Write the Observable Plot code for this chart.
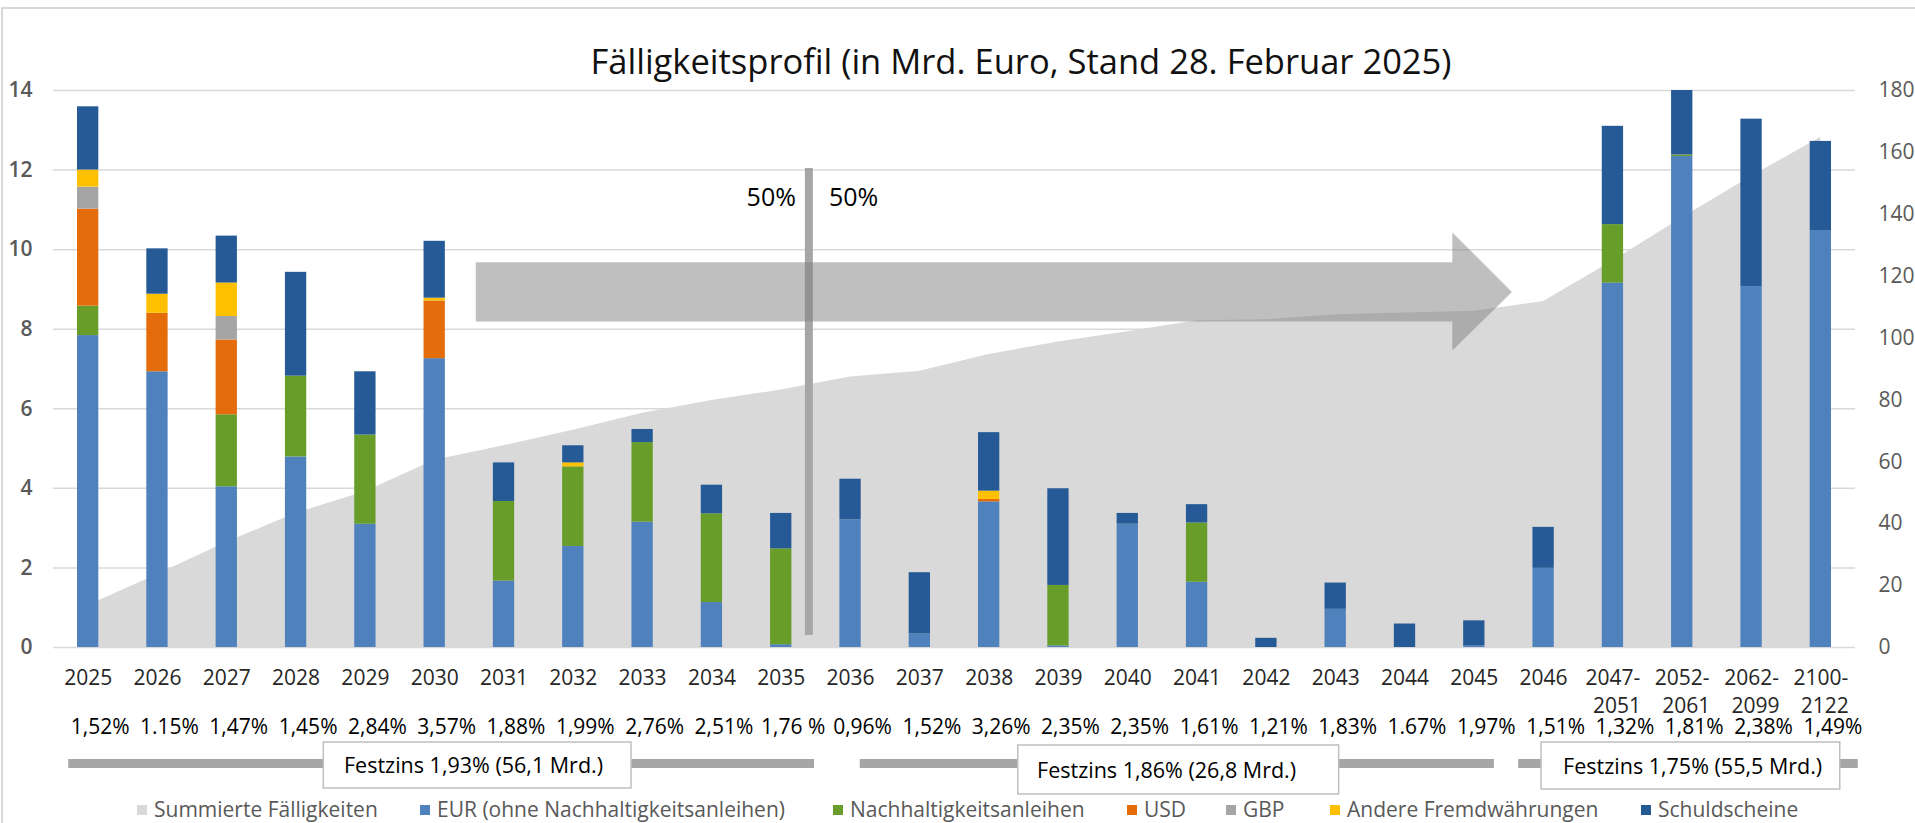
<!DOCTYPE html>
<html>
<head>
<meta charset="utf-8">
<script src="https://cdn.jsdelivr.net/npm/d3@7"></script>
<script src="https://cdn.jsdelivr.net/npm/@observablehq/plot@0.6"></script>
<style>
html, body { margin: 0; padding: 0; background: #fff; }
body { width: 1915px; height: 823px; position: relative; overflow: hidden; font-family: "Open Sans", sans-serif; }
#border { position: absolute; left: 1px; top: 7px; width: 1940px; height: 840px; border-left: 2px solid #d9d9d9; border-top: 2px solid #d9d9d9; }
#title { position: absolute; left: 0; width: 2042px; top: 40px; line-height: 42px; font-size: 34.5px; text-align: center; color: #111; white-space: nowrap; }
#chart { position: absolute; left: 0; top: 80px; }
#legend .item { position: absolute; top: 797px; height: 24px; line-height: 24px; font-size: 21px; color: #595959; white-space: nowrap; }
#legend .sw { position: absolute; left: 0; top: 8px; width: 10px; height: 10px; }
#legend .lbl { position: absolute; left: 17px; top: 0; }
</style>
</head>
<body>
<div id="border"></div>
<div id="title">Fälligkeitsprofil (in Mrd. Euro, Stand 28. Februar 2025)</div>
<div id="chart"></div>
<div id="legend"></div>
<script>
// ---------- data ----------
const categories = ["2025","2026","2027","2028","2029","2030","2031","2032","2033","2034","2035","2036","2037","2038","2039","2040","2041","2042","2043","2044","2045","2046","2047-\n2051","2052-\n2061","2062-\n2099","2100-\n2122"];
const eur        = [7.84,6.93,4.04,4.79,3.10,7.26,1.67,2.54,3.15,1.13,0.07,3.21,0.34,3.66,0.04,3.10,1.64,0,0.96,0,0.04,1.99,9.16,12.34,9.07,10.48];
const nachhaltig = [0.74,0,1.81,2.03,2.24,0,2.00,2.00,2.00,2.23,2.41,0,0,0,1.52,0,1.49,0,0,0,0,0,1.47,0.04,0,0];
const usd        = [2.44,1.47,1.88,0,0,1.45,0,0,0,0,0,0,0,0.06,0,0,0,0,0,0,0,0,0,0,0,0];
const gbp        = [0.55,0,0.59,0,0,0,0,0,0,0,0,0,0,0,0,0,0,0,0,0,0,0,0,0,0,0];
const andere     = [0.43,0.48,0.84,0,0,0.07,0,0.10,0,0,0,0,0,0.21,0,0,0,0,0,0,0,0,0,0,0,0];
const schuld     = [1.59,1.14,1.18,2.61,1.59,1.43,0.97,0.43,0.33,0.72,0.89,1.02,1.54,1.47,2.43,0.27,0.46,0.23,0.66,0.59,0.63,1.03,2.47,1.62,4.21,2.24];
const summiert   = [13.6,23.6,34.0,43.4,50.3,60.5,65.2,70.2,75.7,79.8,83.2,87.4,89.3,94.7,98.7,102.0,105.6,105.9,107.5,108.1,108.7,111.8,124.9,138.9,152.2,164.9];
const zinssaetze = ["1,52%","1.15%","1,47%","1,45%","2,84%","3,57%","1,88%","1,99%","2,76%","2,51%","1,76 %","0,96%","1,52%","3,26%","2,35%","2,35%","1,61%","1,21%","1,83%","1.67%","1,97%","1,51%","1,32%","1,81%","2,38%","1,49%"];
const festzinsLabels = ["Festzins 1,93% (56,1 Mrd.)","Festzins 1,86% (26,8 Mrd.)","Festzins 1,75% (55,5 Mrd.)"];
const splitLabels = ["50%","50%"];
const leftTicks  = [0,2,4,6,8,10,12,14];
const rightTicks = [0,20,40,60,80,100,120,140,160,180];
const seriesNames = ["Summierte Fälligkeiten","EUR (ohne Nachhaltigkeitsanleihen)","Nachhaltigkeitsanleihen","USD","GBP","Andere Fremdwährungen","Schuldscheine"];
const seriesColors = ["#d9d9d9","#4f81bd","#689d2a","#e46c0a","#a5a5a5","#ffc000","#265a96"];

// ---------- tables ----------
const stackSeries = [eur, nachhaltig, usd, gbp, andere, schuld];
const barRows = [];
categories.forEach((c, i) => {
  let base = 0;
  stackSeries.forEach((vals, s) => {
    const v = vals[i];
    if (v > 0) barRows.push({i, cat: c, series: seriesNames[s + 1], y1: base, y2: base + v});
    base += v;
  });
});
const R = 14 / 180; // right axis -> left axis units
const cumRows = categories.map((c, i) => ({i, cat: c, cum: summiert[i]}));
const labelRows = categories.map((c, i) => {
  const parts = c.split("\n");
  return {i, cat: c, line1: parts[0], line2: parts[1] || "", rate: zinssaetze[i]};
});
const idx = c => categories.indexOf(c);

const colorScale = {domain: seriesNames, range: seriesColors};
const font = "Open Sans";

// arrow annotation (in scale units)
const arrowPts = [
  {x: 6.10, y1: 8.18, y2: 9.67},
  {x: 20.19, y1: 8.18, y2: 9.67},
  {x: 20.19, y1: 7.45, y2: 10.42},
  {x: 21.05, y1: 8.925, y2: 8.925}
];
const split = idx("2036");

function festzinsMarks(label, x1, x2, bx1, bx2, tx, dyBox, hBox) {
  return [
    Plot.ruleY([0], {x1, x2, dy: 116, stroke: "#a6a6a6", strokeWidth: 9}),
    Plot.rect([label], {x1: bx1, x2: bx2, y1: 0, y2: 0, dy: dyBox, insetTop: -hBox / 2, insetBottom: -hBox / 2, fill: "white", stroke: "#bfbfbf", strokeWidth: 1.5}),
    Plot.text([label], {x: tx, frameAnchor: "bottom", text: d => d, dy: dyBox + 1, lineAnchor: "middle", fontSize: 21.5, fill: "#000"})
  ];
}

const chart = Plot.plot({
  width: 1915,
  height: 715,
  marginTop: 10,
  marginBottom: 148,
  marginLeft: 53,
  marginRight: 60,
  x: {domain: [0, 26], axis: null},
  y: {domain: [0, 14], axis: null},
  color: colorScale,
  style: {fontFamily: font, background: "transparent", overflow: "visible"},
  marks: [
    Plot.ruleY(leftTicks, {stroke: "#d9d9d9", strokeWidth: 1.5}),
    Plot.areaY(cumRows, {x: d => d.i + 0.5, y: d => d.cum * R, fill: "#d9d9d9", curve: "linear"}),
    Plot.rect(barRows, {x1: d => d.i, x2: d => d.i + 1, y1: "y1", y2: "y2", fill: "series", insetLeft: 24, insetRight: 24}),
    Plot.ruleX([split], {x: d => d, y1: 0.30, y2: 12.04, dx: -7, stroke: "#a6a6a6", strokeWidth: 8}),
    Plot.areaY(arrowPts, {x: "x", y1: "y1", y2: "y2", fill: "#7f7f7f", fillOpacity: 0.5, curve: "linear"}),
    Plot.text([splitLabels[0]], {x: split, y: 11.31, text: d => d, dx: -20, textAnchor: "end", lineAnchor: "middle", fontSize: 25, fill: "#000"}),
    Plot.text([splitLabels[1]], {x: split, y: 11.31, text: d => d, dx: 13, textAnchor: "start", lineAnchor: "middle", fontSize: 25, fill: "#000"}),
    // left axis
    Plot.text(leftTicks, {y: d => d, text: d => String(d), frameAnchor: "left", textAnchor: "end", lineAnchor: "middle", dx: -21, fontSize: 21, fontWeight: 600, fill: "#595959"}),
    // right axis
    Plot.text(rightTicks, {y: d => d * R, text: d => String(d), frameAnchor: "right", textAnchor: "start", lineAnchor: "middle", dx: 23, fontSize: 21, fill: "#595959"}),
    // category labels (two lines for ranges)
    Plot.text(labelRows, {x: d => d.i + 0.5, text: "line1", frameAnchor: "bottom", lineAnchor: "middle", dy: 31, fontSize: 21, fill: "#262626"}),
    Plot.text(labelRows.filter(d => d.line2), {x: d => d.i + 0.5, text: "line2", frameAnchor: "bottom", lineAnchor: "middle", dy: 59, dx: 4, fontSize: 21, fill: "#262626"}),
    Plot.text(labelRows, {x: d => d.i + 0.5, text: "rate", frameAnchor: "bottom", lineAnchor: "middle", dy: 80, dx: 12, fontSize: 21, fill: "#000"}),
    ...festzinsMarks(festzinsLabels[0], idx("2025") + 0.22, idx("2035") + 0.98, 3.90, 8.34, 6.06, 118, 46),
    ...festzinsMarks(festzinsLabels[1], idx("2036") + 0.64, idx("2045") + 0.79, 13.92, 18.55, 16.06, 122.5, 49),
    ...festzinsMarks(festzinsLabels[2], idx("2046") + 0.14, idx("2100-\n2122") + 1.04, 21.47, 25.78, 23.65, 118.5, 47)
  ]
});
document.getElementById("chart").appendChild(chart);

// legend
const legendX = [137, 420, 833, 1127, 1226, 1330, 1641];
const legend = document.getElementById("legend");
seriesNames.forEach((name, k) => {
  const item = document.createElement("div");
  item.className = "item";
  item.style.left = legendX[k] + "px";
  const sw = document.createElement("div");
  sw.className = "sw";
  sw.style.background = seriesColors[k];
  const lbl = document.createElement("div");
  lbl.className = "lbl";
  lbl.textContent = name;
  item.appendChild(sw);
  item.appendChild(lbl);
  legend.appendChild(item);
});
</script>
</body>
</html>
